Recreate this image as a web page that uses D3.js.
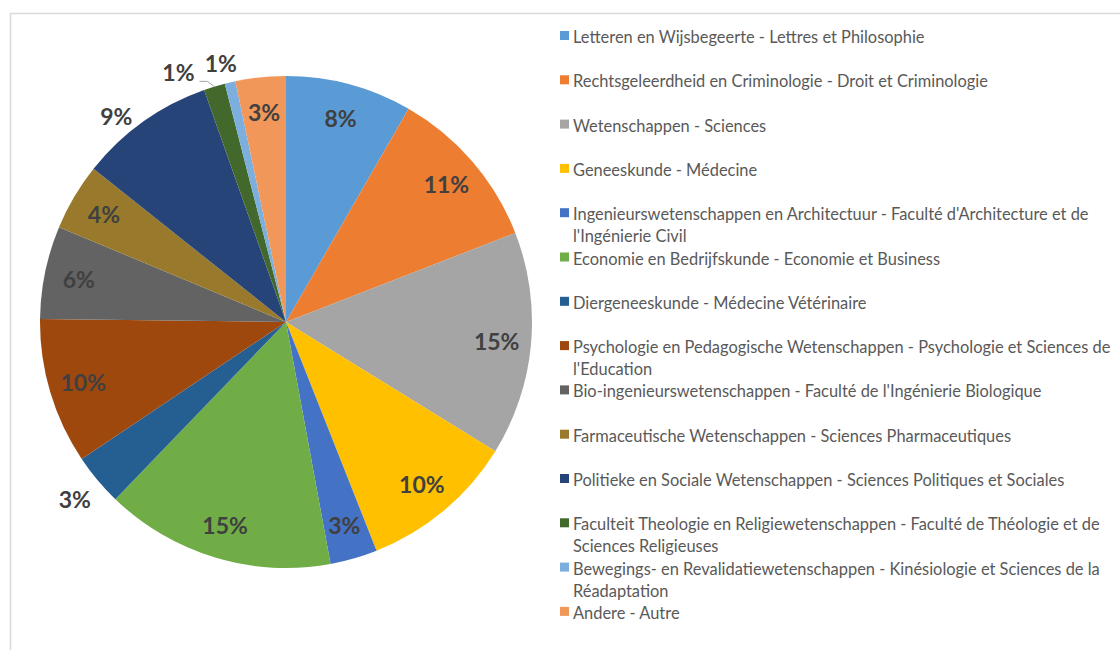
<!DOCTYPE html>
<html>
<head>
<meta charset="utf-8">
<script src="https://cdn.jsdelivr.net/npm/d3@7"></script>
<style>
  body { margin: 0; background: #fff; }
  svg { display: block; font-family: Lato, "Open Sans", sans-serif; }
</style>
</head>
<body>
<div id="chart"></div>
<script>
(function(){
// Faculties, in the order they appear (clockwise from 12 o'clock)
const faculties = [
  "Letteren en Wijsbegeerte - Lettres et Philosophie",
  "Rechtsgeleerdheid en Criminologie - Droit et Criminologie",
  "Wetenschappen - Sciences",
  "Geneeskunde - Médecine",
  "Ingenieurswetenschappen en Architectuur - Faculté d'Architecture et de l'Ingénierie Civil",
  "Economie en Bedrijfskunde - Economie et Business",
  "Diergeneeskunde - Médecine Vétérinaire",
  "Psychologie en Pedagogische Wetenschappen - Psychologie et Sciences de l'Education",
  "Bio-ingenieurswetenschappen - Faculté de l'Ingénierie Biologique",
  "Farmaceutische Wetenschappen - Sciences Pharmaceutiques",
  "Politieke en Sociale Wetenschappen - Sciences Politiques et Sociales",
  "Faculteit Theologie en Religiewetenschappen - Faculté de Théologie et de Sciences Religieuses",
  "Bewegings- en Revalidatiewetenschappen - Kinésiologie et Sciences de la Réadaptation",
  "Andere - Autre"
];

// Share of respondents (%)
const shares = [8.3, 10.8, 14.7, 10.2, 3.1, 15.1, 3.4, 9.6, 6.1, 4.4, 8.9, 1.4, 0.7, 3.3];

const sliceColors = [
  "#5B9BD5", "#ED7D31", "#A5A5A5", "#FFC000", "#4472C4", "#70AD47", "#255E91",
  "#9E480E", "#636363", "#997A2C", "#264478", "#43682B", "#7CAFDD", "#F1975A"
];

const width = 1120, height = 650;
const cx = 286, cy = 322, radius = 246;

const svg = d3.select("#chart").append("svg")
  .attr("width", width)
  .attr("height", height);

// chart area frame
svg.append("rect")
  .attr("x", 10.5).attr("y", 13.5)
  .attr("width", 1200).attr("height", 700)
  .attr("fill", "none")
  .attr("stroke", "#d9d9d9")
  .attr("stroke-width", 1.5);

const pie = d3.pie().sort(null).value(d => d);
const arcs = pie(shares);
const total = d3.sum(shares);

const arc = d3.arc().innerRadius(0).outerRadius(radius);

const g = svg.append("g").attr("transform", `translate(${cx},${cy})`);

g.selectAll("path.slice")
  .data(arcs)
  .join("path")
  .attr("class", "slice")
  .attr("d", arc)
  .attr("fill", (d, i) => sliceColors[i]);

// label placement: inside by default, a few pushed outside like Excel's best fit
const insideR = 0.86;
const outside = {
  6:  { r: 1.12 },
  10: { r: 1.085, da: -4 },
  11: { r: 1.105, da: -6.4, leader: true },
  12: { r: 1.085, da: -1 }
};

function polar(angleDeg, r) {
  const a = angleDeg * Math.PI / 180;
  return [r * Math.sin(a), -r * Math.cos(a)];
}

const labels = arcs.map((d, i) => {
  const mid = (d.startAngle + d.endAngle) / 2 * 180 / Math.PI;
  const o = outside[i];
  const ang = mid + (o && o.da ? o.da : 0);
  const p = polar(ang, radius * (o ? o.r : insideR));
  return { i, mid, x: p[0], y: p[1], o, text: Math.round(d.value / total * 100) + "%" };
});

// leader lines
labels.filter(l => l.o && l.o.leader).forEach(l => {
  const end = polar(l.mid, radius);
  const sx = l.x + 21, sy = l.y + 9;
  g.append("polyline")
    .attr("points", [[sx, sy], [sx + 8, sy], end].map(p => p.join(",")).join(" "))
    .attr("fill", "none")
    .attr("stroke", "#a6a6a6")
    .attr("stroke-width", 1);
});

g.selectAll("text.pct")
  .data(labels)
  .join("text")
  .attr("class", "pct")
  .attr("x", d => d.x)
  .attr("y", d => d.y)
  .attr("text-anchor", "middle")
  .attr("dominant-baseline", "central")
  .attr("font-size", 23)
  .attr("font-weight", "bold")
  .attr("fill", "#404040")
  .text(d => d.text);

// legend
const legendX = 560, legendY0 = 36, slot = 44.3, lineH = 22, maxW = 545;
const legend = svg.append("g").attr("fill", "#595959");

// size the legend font so the first entry spans about the same width as the original
const measure = legend.append("text").attr("visibility", "hidden").attr("font-size", 15);
measure.text(faculties[0]);
const fontSize = 15 * 352 / measure.node().getComputedTextLength();
legend.attr("font-size", fontSize);
measure.attr("font-size", fontSize);

function wrap(str) {
  const words = str.split(" ");
  const lines = [];
  let cur = "";
  words.forEach(w => {
    const test = cur ? cur + " " + w : w;
    measure.text(test);
    if (measure.node().getComputedTextLength() > maxW && cur) {
      lines.push(cur);
      cur = w;
    } else cur = test;
  });
  lines.push(cur);
  return lines;
}

faculties.forEach((name, i) => {
  const y = legendY0 + i * slot;
  legend.append("rect")
    .attr("x", legendX).attr("y", y - 5)
    .attr("width", 9).attr("height", 9)
    .attr("fill", sliceColors[i]);
  const t = legend.append("text")
    .attr("x", legendX + 13)
    .attr("y", y)
    .attr("dominant-baseline", "central");
  wrap(name).forEach((line, k) => {
    t.append("tspan")
      .attr("x", legendX + 13)
      .attr("dy", k === 0 ? 0 : lineH)
      .text(line);
  });
});
measure.remove();

})();
</script>
</body>
</html>
